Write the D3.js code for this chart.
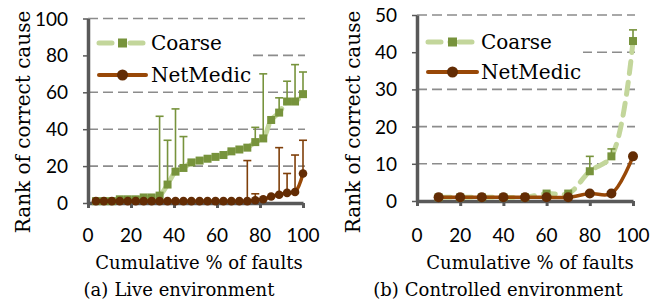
<!DOCTYPE html>
<html>
<head>
<meta charset="utf-8">
<script src="https://cdn.jsdelivr.net/npm/d3@7"></script>
<style>
  body { margin: 0; background: #fff; }
  svg { display: block; }
</style>
</head>
<body>
<script>
// ---------- data ----------
const xTicks = [0, 20, 40, 60, 80, 100];
const liveYTicks = [0, 20, 40, 60, 80, 100];
const ctrlYTicks = [0, 10, 20, 30, 40, 50];

const liveX = [3.7, 7.4, 11.1, 14.8, 18.5, 22.2, 25.9, 29.6, 33.3, 37.0, 40.7, 44.4, 48.1, 51.9,
               55.6, 59.3, 63.0, 66.7, 70.4, 74.1, 77.8, 81.5, 85.2, 88.9, 92.6, 96.3, 100];
const liveCoarse = [1, 1, 1, 2, 2, 2, 3, 3, 4, 10, 17, 19, 22, 23, 24, 25, 26, 28, 29, 30,
                    33, 35, 45, 49, 55, 55, 59];
const liveCoarseHigh = [null, null, null, null, null, null, null, null, 47, 34, 51, 36, null, null,
                        null, null, null, null, null, null, 41, 70, null, 57, 66, 75, 71];
const liveNet = [1, 1, 1, 1, 1, 1, 1, 1, 1, 1, 1, 1, 1, 1, 1, 1, 1, 1, 1, 1,
                 1.5, 2, 3.5, 4.5, 5.5, 6, 16];
const liveNetHigh = [null, null, null, null, null, null, null, null, null, null, null, null, null, null,
                     null, null, null, null, null, 23, 5, null, null, 30, 16, 26, 34];

const ctrlX = [10, 20, 30, 40, 50, 60, 70, 80, 90, 100];
const ctrlCoarse = [1, 1, 1, 1, 1, 2, 2, 8, 12, 43];
const ctrlCoarseHigh = [null, null, null, null, null, null, null, 12, 14, 46];
const ctrlNet = [1, 1, 1, 1, 1, 1, 1, 2, 2, 12];

const seriesNames = ["Coarse", "NetMedic"];

// ---------- styles ----------
const C = {
  coarseLine: "#c3d69b",
  coarseMark: "#77933c",
  netLine: "#984807",
  netMark: "#632c04",
  netErr: "#7f3f0a",
  grid: "#8c8c8c",
  axis: "#595959"
};
const SERIF = "DejaVu Serif";
const SANS = "Lato";

const svg = d3.select("body").append("svg")
  .attr("width", 662).attr("height", 302);

function serifText(sel, size) {
  return sel.attr("font-family", SERIF).attr("font-size", size).attr("fill", "#000");
}

function panel(cfg) {
  const g = svg.append("g");
  const x = d3.scaleLinear().domain([0, 100]).range(cfg.xr);
  const y = d3.scaleLinear().domain([0, cfg.yMax]).range(cfg.yr);

  // gridlines
  g.append("g").selectAll("line").data(cfg.yTicks.filter(d => d > 0)).join("line")
    .attr("x1", cfg.xr[0]).attr("x2", cfg.xr[1] + 2)
    .attr("y1", d => y(d)).attr("y2", d => y(d))
    .attr("stroke", C.grid).attr("stroke-width", 1.6)
    .attr("stroke-dasharray", "10,5");

  // legend background
  g.append("rect")
    .attr("x", cfg.legBox[0]).attr("y", cfg.legBox[1])
    .attr("width", cfg.legBox[2]).attr("height", cfg.legBox[3])
    .attr("fill", "#fff");

  // axes
  const xAxis = d3.axisBottom(x).tickValues(xTicks).tickSize(5).tickSizeOuter(0).tickFormat("");
  const gx = g.append("g").attr("transform", `translate(0,${cfg.yr[0]})`).call(xAxis);
  gx.select(".domain").attr("stroke", C.axis).attr("stroke-width", 3.5);
  gx.selectAll(".tick line").attr("stroke", C.axis).attr("stroke-width", 3);

  const yAxis = d3.axisLeft(y).tickValues(cfg.yTicks).tickSize(5).tickSizeOuter(0).tickFormat("");
  const gy = g.append("g").attr("transform", `translate(${cfg.xr[0]},0)`).call(yAxis);
  gy.select(".domain").attr("stroke", C.axis).attr("stroke-width", 3.5);
  gy.selectAll(".tick line").attr("stroke", C.axis).attr("stroke-width", 1.5);

  g.append("g").selectAll("text").data(xTicks).join("text")
    .attr("font-family", SANS).attr("font-size", 19).attr("fill", "#000")
    .attr("x", d => x(d)).attr("y", 242)
    .attr("text-anchor", "middle")
    .text(d => d);

  g.append("g").selectAll("text").data(cfg.yTicks).join("text")
    .attr("font-family", SANS).attr("font-size", 19).attr("fill", "#000")
    .attr("x", cfg.xr[0] - 20).attr("y", d => y(d) + 7)
    .attr("text-anchor", "end")
    .text(d => d);

  const line = d3.line().curve(d3.curveCatmullRom.alpha(0.5))
    .x(d => x(d[0])).y(d => y(d[1]));

  // Coarse line
  const cData = cfg.xs.map((v, i) => [v, cfg.coarse[i]]);
  g.append("path").attr("d", line(cData))
    .attr("fill", "none").attr("stroke", C.coarseLine).attr("stroke-width", 5)
    .attr("stroke-dasharray", cfg.dash).attr("stroke-linecap", "round");

  // Coarse error bars
  const cErr = cfg.xs.map((v, i) => ({ x: v, y: cfg.coarse[i], h: cfg.coarseHigh[i] })).filter(d => d.h != null);
  const ce = g.append("g");
  ce.selectAll("line.v").data(cErr).join("line")
    .attr("x1", d => x(d.x)).attr("x2", d => x(d.x))
    .attr("y1", d => y(d.y)).attr("y2", d => y(d.h))
    .attr("stroke", C.coarseMark).attr("stroke-width", 1.6);
  ce.selectAll("line.c").data(cErr).join("line")
    .attr("x1", d => x(d.x) - 4).attr("x2", d => x(d.x) + 4)
    .attr("y1", d => y(d.h)).attr("y2", d => y(d.h))
    .attr("stroke", C.coarseMark).attr("stroke-width", 1.6);

  // Coarse markers
  g.append("g").selectAll("rect").data(cData).join("rect")
    .attr("x", d => x(d[0]) - cfg.sq / 2).attr("y", d => y(d[1]) - cfg.sq / 2)
    .attr("width", cfg.sq).attr("height", cfg.sq).attr("fill", C.coarseMark);

  // NetMedic error bars
  const nErr = cfg.xs.map((v, i) => ({ x: v, y: cfg.net[i], h: cfg.netHigh ? cfg.netHigh[i] : null })).filter(d => d.h != null);
  const ne = g.append("g");
  ne.selectAll("line.v").data(nErr).join("line")
    .attr("x1", d => x(d.x)).attr("x2", d => x(d.x))
    .attr("y1", d => y(d.y)).attr("y2", d => y(d.h))
    .attr("stroke", C.netErr).attr("stroke-width", 1.6);
  ne.selectAll("line.c").data(nErr).join("line")
    .attr("x1", d => x(d.x) - 4).attr("x2", d => x(d.x) + 4)
    .attr("y1", d => y(d.h)).attr("y2", d => y(d.h))
    .attr("stroke", C.netErr).attr("stroke-width", 1.6);

  // NetMedic line + markers
  const nData = cfg.xs.map((v, i) => [v, cfg.net[i]]);
  g.append("path").attr("d", line(nData))
    .attr("fill", "none").attr("stroke", C.netLine).attr("stroke-width", 3.5);
  g.append("g").selectAll("circle").data(nData).join("circle")
    .attr("cx", d => x(d[0])).attr("cy", d => y(d[1])).attr("r", cfg.r)
    .attr("fill", C.netMark);

  // legend
  const L = cfg.leg;
  const lg = g.append("g");
  lg.append("line").attr("x1", L.x0).attr("x2", L.x1).attr("y1", L.y0).attr("y2", L.y0)
    .attr("stroke", C.coarseLine).attr("stroke-width", 5)
    .attr("stroke-dasharray", "13,9,0,9").attr("stroke-linecap", "round");
  lg.append("rect").attr("x", (L.x0 + L.x1) / 2 - 4.5).attr("y", L.y0 - 4.5)
    .attr("width", 9).attr("height", 9).attr("fill", C.coarseMark);
  lg.append("line").attr("x1", L.x0).attr("x2", L.x1).attr("y1", L.y1).attr("y2", L.y1)
    .attr("stroke", C.netLine).attr("stroke-width", 4).attr("stroke-linecap", "round");
  lg.append("circle").attr("cx", (L.x0 + L.x1) / 2).attr("cy", L.y1).attr("r", 5.5)
    .attr("fill", C.netMark);
  serifText(lg.selectAll("text").data(seriesNames).join("text"), 20)
    .attr("x", L.tx).attr("y", (d, i) => (i === 0 ? L.y0 : L.y1) + 7)
    .text(d => d);

  // y title
  serifText(g.append("text"), 20)
    .attr("transform", `translate(${cfg.ytX},${cfg.ytY}) rotate(-90)`)
    .attr("text-anchor", "middle")
    .text("Rank of correct cause");

  // x title
  serifText(g.append("text"), 18)
    .attr("x", cfg.xtX).attr("y", 269)
    .attr("text-anchor", "middle")
    .text("Cumulative % of faults");

  // caption
  const cap = serifText(g.append("text"), 18)
    .attr("x", cfg.capX).attr("y", 296)
    .attr("text-anchor", "middle");
  cap.append("tspan").text(cfg.cap[0]);
  cap.append("tspan").attr("dx", 6).text(cfg.cap[1]);
}

panel({
  xr: [88, 303], yr: [203, 18.5], yMax: 100, yTicks: liveYTicks,
  xs: liveX, coarse: liveCoarse, coarseHigh: liveCoarseHigh, net: liveNet, netHigh: liveNetHigh,
  sq: 8, r: 4.3, dash: "14,7",
  legBox: [90, 26, 163, 60],
  leg: { x0: 99, x1: 146, y0: 43, y1: 75, tx: 151 },
  ytX: 30, ytY: 122, xtX: 199, capX: 179,
  cap: ["(a)", "Live environment"]
});

panel({
  xr: [417, 633], yr: [201, 15], yMax: 50, yTicks: ctrlYTicks,
  xs: ctrlX, coarse: ctrlCoarse, coarseHigh: ctrlCoarseHigh, net: ctrlNet, netHigh: null,
  sq: 8, r: 5, dash: "12,9",
  legBox: [419, 22, 164, 62],
  leg: { x0: 428, x1: 477, y0: 42, y1: 72, tx: 481 },
  ytX: 360, ytY: 122, xtX: 530, capX: 498,
  cap: ["(b)", "Controlled environment"]
});
</script>
</body>
</html>
